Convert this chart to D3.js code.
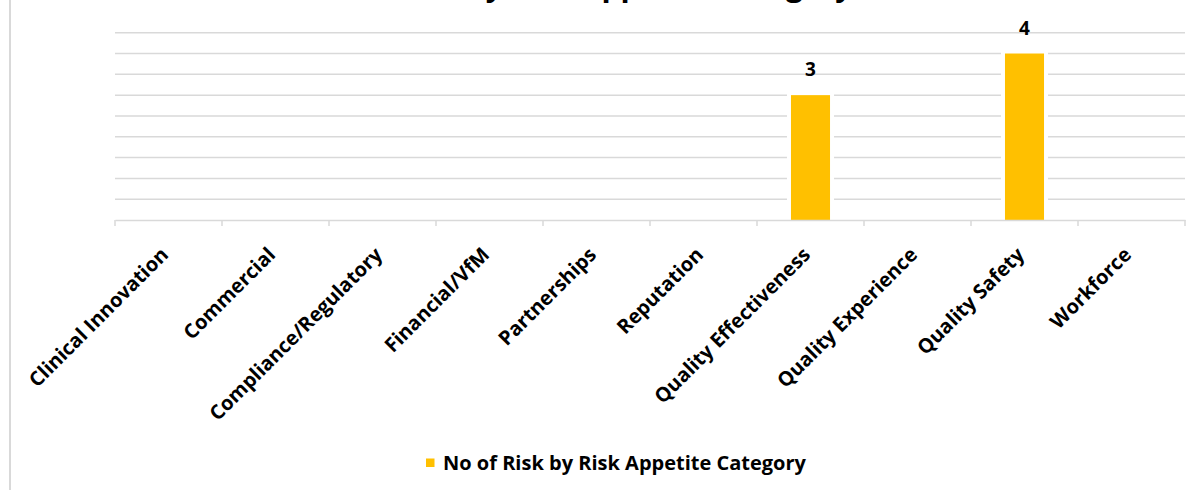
<!DOCTYPE html>
<html>
<head>
<meta charset="utf-8">
<script src="https://cdn.jsdelivr.net/npm/d3@7"></script>
<style>
  body { margin: 0; background: #fff; }
  svg text { font-family: "Open Sans", Lato, sans-serif; font-weight: bold; fill: #000; }
</style>
</head>
<body>
<div id="chart"></div>
<script>
var chartTitle = "No of Risk by Risk Appetite Category";
var seriesName = "No of Risk by Risk Appetite Category";
var categories = ["Clinical Innovation", "Commercial", "Compliance/Regulatory", "Financial/VfM",
  "Partnerships", "Reputation", "Quality Effectiveness", "Quality Experience", "Quality Safety", "Workforce"];
var riskCounts = [null, null, null, null, null, null, 3, null, 4, null];
var gridValues = [0.5, 1, 1.5, 2, 2.5, 3, 3.5, 4, 4.5];

var width = 1200, height = 490;
var margin = { top: 32.7, right: 15, bottom: 270, left: 115 };
var barColor = "#ffc000";
var lineColor = "#d9d9d9";

var svg = d3.select("#chart").append("svg")
  .attr("width", width)
  .attr("height", height);

// chart area border (right side runs off the picture)
svg.append("rect")
  .attr("x", 10).attr("y", -5)
  .attr("width", 1220).attr("height", 500)
  .style("fill", "none")
  .style("stroke", lineColor)
  .style("stroke-width", 2);

var x = d3.scaleBand()
  .domain(categories)
  .range([margin.left, width - margin.right]);

var y = d3.scaleLinear()
  .domain([0, 4.5])
  .range([height - margin.bottom, margin.top]);

// gridlines
svg.append("g").selectAll("line")
  .data(gridValues).enter()
  .append("line")
  .attr("x1", margin.left).attr("x2", width - margin.right)
  .attr("y1", function (d) { return y(d); })
  .attr("y2", function (d) { return y(d); })
  .style("stroke", lineColor)
  .style("stroke-width", 1.5);

// bars, with a white halo that breaks the gridlines
var barData = categories.map(function (c, i) { return { cat: c, val: riskCounts[i] }; })
  .filter(function (d) { return d.val != null; });
var barW = x.bandwidth() * 0.365;

var bars = svg.append("g").selectAll("g")
  .data(barData).enter()
  .append("g");

bars.append("rect")
  .attr("x", function (d) { return x(d.cat) + (x.bandwidth() - barW) / 2; })
  .attr("y", function (d) { return y(d.val); })
  .attr("width", barW)
  .attr("height", function (d) { return y(0) - y(d.val); })
  .style("fill", barColor)
  .style("stroke", "#fff")
  .style("stroke-width", 8)
  .style("paint-order", "stroke");

bars.append("text")
  .attr("x", function (d) { return x(d.cat) + x.bandwidth() / 2; })
  .attr("y", function (d) { return y(d.val) - 19; })
  .style("text-anchor", "middle")
  .style("font-size", "19px")
  .text(function (d) { return d.val; });

// x axis
var xAxis = svg.append("g")
  .attr("transform", "translate(0," + y(0) + ")")
  .call(d3.axisBottom(x).tickSize(0).tickFormat(""));
xAxis.select(".domain").style("stroke", lineColor).style("stroke-width", 1.5);

var bounds = categories.map(function (c) { return x(c); }).concat([x.range()[1]]);
xAxis.selectAll(".sep")
  .data(bounds).enter()
  .append("line")
  .attr("class", "sep")
  .attr("x1", function (d) { return d; }).attr("x2", function (d) { return d; })
  .attr("y1", 0).attr("y2", 6)
  .style("stroke", lineColor)
  .style("stroke-width", 1.5);

// rotated category labels
svg.append("g").selectAll("text")
  .data(categories).enter()
  .append("text")
  .attr("transform", function (d) {
    return "translate(" + (x(d) + x.bandwidth() / 2 + 1) + "," + (y(0) + 36) + ") rotate(-45)";
  })
  .style("text-anchor", "end")
  .style("font-size", "20px")
  .text(function (d) { return d; });

// title, mostly cut off by the top edge
svg.append("text")
  .attr("x", 580)
  .attr("y", -4)
  .style("text-anchor", "middle")
  .style("font-size", "30px")
  .text(chartTitle);

// legend
var legend = svg.append("g").attr("transform", "translate(426,463)");
legend.append("rect")
  .attr("x", 0).attr("y", -4.5)
  .attr("width", 8.5).attr("height", 8.5)
  .style("fill", barColor);
legend.append("text")
  .attr("x", 17).attr("y", 0)
  .attr("dy", "0.35em")
  .style("font-size", "20px")
  .text(seriesName);
</script>
</body>
</html>
